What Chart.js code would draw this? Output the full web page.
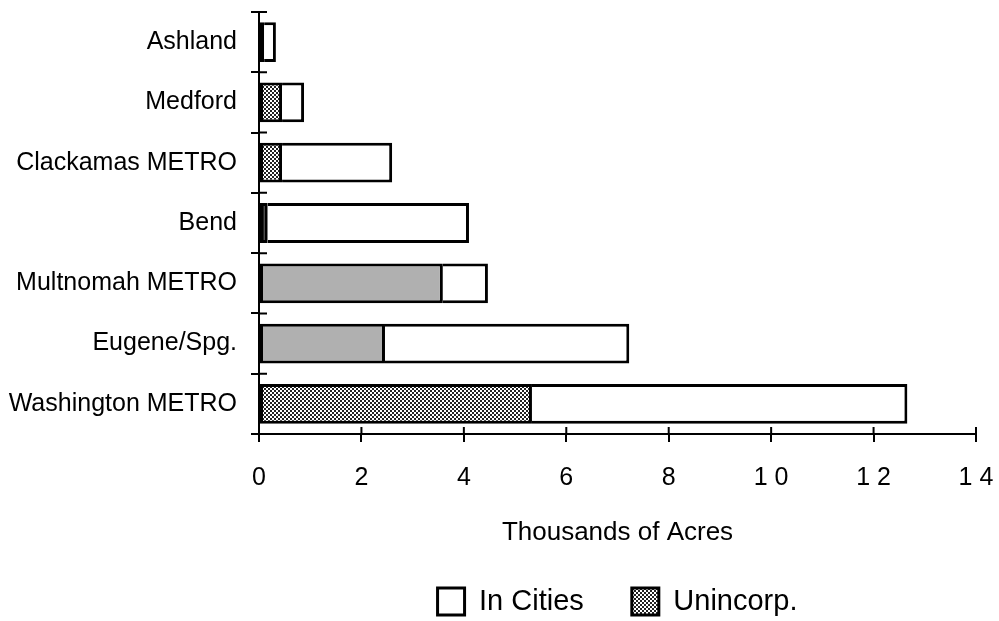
<!DOCTYPE html>
<html>
<head>
<meta charset="utf-8">
<script src="https://cdn.jsdelivr.net/npm/chart.js@4"></script>
<style>
  html, body { margin: 0; padding: 0; background: #fff; }
  #wrap { width: 999px; height: 621px; }
</style>
</head>
<body>
<div id="wrap"><canvas id="acresChart" width="999" height="621"></canvas></div>
<script>
// data (thousands of acres)
const categories = ['Ashland', 'Medford', 'Clackamas METRO', 'Bend', 'Multnomah METRO', 'Eugene/Spg.', 'Washington METRO'];
const unincorp = [0.10, 0.45, 0.45, 0.17, 3.59, 2.46, 5.33];
const inCities = [0.23, 0.43, 2.15, 3.93, 0.88, 4.77, 7.33];
const xTickLabels = ['0', '2', '4', '6', '8', '1 0', '1 2', '1 4'];

const FONT = "'Liberation Sans', Arial, Helvetica, sans-serif";

function makeDots() {
    const c = document.createElement('canvas');
    c.width = 4;
    c.height = 4;
    const g = c.getContext('2d');
    g.fillStyle = '#fff';
    g.fillRect(0, 0, 4, 4);
    g.fillStyle = '#222';
    g.fillRect(0, 0, 2, 2);
    g.fillRect(2, 2, 2, 2);
    return g.createPattern(c, 'repeat');
}

const dots = makeDots();
const flatGray = '#b0b0b0';
const unincorpFill = [dots, dots, dots, '#222', flatGray, flatGray, dots];

// tick marks that cross the axis lines, like the original
const crossTicks = {
    id: 'crossTicks',
    afterDraw(chart) {
        const ctx = chart.ctx;
        const xs = chart.scales.x;
        const ys = chart.scales.y;
        ctx.save();
        ctx.strokeStyle = '#000';
        ctx.lineWidth = 2;
        ctx.beginPath();
        xs.ticks.forEach((t, i) => {
            const px = xs.getPixelForTick(i);
            ctx.moveTo(px, ys.bottom);
            ctx.lineTo(px, ys.bottom - 7);
        });
        const step = (ys.bottom - ys.top) / categories.length;
        for (let i = 0; i <= categories.length; i++) {
            const py = ys.top + i * step;
            ctx.moveTo(xs.left, py);
            ctx.lineTo(xs.left + 8, py);
        }
        ctx.stroke();
        ctx.restore();
    }
};

new Chart(document.getElementById('acresChart'), {
    type: 'bar',
    data: {
        labels: categories,
        datasets: [{
            label: 'Unincorp.',
            data: unincorp,
            backgroundColor: unincorpFill,
            borderColor: '#000',
            borderWidth: 3,
            borderSkipped: false,
            barPercentage: 0.66,
            categoryPercentage: 1
        }, {
            label: 'In Cities',
            data: inCities,
            backgroundColor: '#fff',
            borderColor: '#000',
            borderWidth: 3,
            borderSkipped: 'start',
            barPercentage: 0.66,
            categoryPercentage: 1
        }]
    },
    options: {
        indexAxis: 'y',
        responsive: false,
        animation: false,
        layout: { padding: { top: 12, right: 23, bottom: -5, left: 0 } },
        scales: {
            x: {
                stacked: true,
                min: 0,
                max: 14,
                ticks: {
                    stepSize: 2,
                    color: '#000',
                    padding: 21,
                    maxRotation: 0,
                    font: { family: FONT, size: 25 },
                    callback: (v, i) => xTickLabels[i]
                },
                grid: { drawOnChartArea: false, tickLength: 8, color: '#000', lineWidth: 2 },
                border: { color: '#000', width: 2 },
                title: {
                    display: true,
                    text: 'Thousands of Acres',
                    color: '#000',
                    font: { family: FONT, size: 26 },
                    padding: { top: 0, bottom: -9 }
                },
                afterFit: (s) => {
                    s.height = 105;
                    s.paddingLeft = 0;
                    s.paddingRight = 0;
                }
            },
            y: {
                stacked: true,
                ticks: {
                    color: '#000',
                    padding: 14,
                    font: { family: FONT, size: 25 }
                },
                grid: { drawOnChartArea: false, tickLength: 8, color: '#000', lineWidth: 2 },
                border: { color: '#000', width: 2 },
                afterFit: (s) => {
                    s.width = 259;
                    s.paddingTop = 0;
                    s.paddingBottom = 0;
                }
            }
        },
        plugins: {
            tooltip: { enabled: false },
            legend: {
                position: 'bottom',
                fullSize: false,
                reverse: true,
                labels: {
                    color: '#000',
                    boxWidth: 27,
                    boxHeight: 27,
                    padding: 48,
                    font: { family: FONT, size: 29 }
                }
            }
        }
    },
    plugins: [crossTicks]
});
</script>
</body>
</html>
